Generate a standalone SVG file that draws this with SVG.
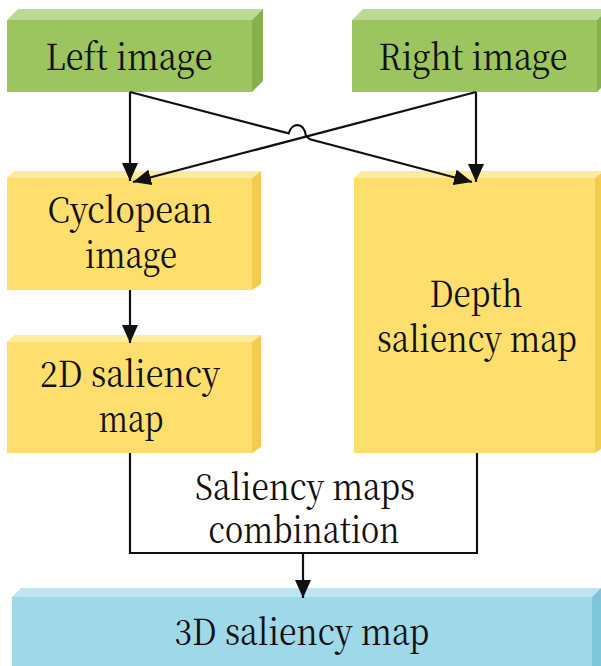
<svg xmlns="http://www.w3.org/2000/svg" width="601" height="666" viewBox="0 0 601 666">
  <style>
    .label { font-family: 'Noto Serif CJK SC', 'Liberation Serif', serif; font-size: 36px; fill: #111; text-anchor: middle; }
    .g-front { fill: #9dc55f; }
    .g-top { fill: #bcd995; }
    .g-side { fill: #86b04a; }
    .y-front { fill: #fedf6e; }
    .y-top { fill: #ffeb9e; }
    .y-side { fill: #f3cc4e; }
    .b-front { fill: #9fd9e9; }
    .b-top { fill: #bfe6f0; }
    .b-side { fill: #7fc5da; }
    .wire { fill: none; stroke: #111; stroke-width: 2.2; }
  </style>
  <defs>
    <marker id="arrow" markerUnits="userSpaceOnUse" markerWidth="18" markerHeight="16" refX="18" refY="8" orient="auto">
      <path d="M0,0 L18,8 L0,16 Z" fill="#111"/>
    </marker>
  </defs>

  <rect width="601" height="666" fill="#ffffff"/>

  <!-- input images -->
  <g id="left-image">
    <polygon class="g-top" points="7,20 18,9 263,9 252,20"/>
    <polygon class="g-side" points="252,20 263,9 263,81 252,92"/>
    <rect class="g-front" x="7" y="20" width="245" height="72"/>
    <text class="label" x="129" y="70" textLength="167" lengthAdjust="spacingAndGlyphs">Left image</text>
  </g>
  <g id="right-image">
    <polygon class="g-top" points="352,20 363,9 608,9 597,20"/>
    <polygon class="g-side" points="597,20 608,9 608,81 597,92"/>
    <rect class="g-front" x="352" y="20" width="245" height="72"/>
    <text class="label" x="473" y="70" textLength="189" lengthAdjust="spacingAndGlyphs">Right image</text>
  </g>

  <!-- intermediate maps -->
  <g id="cyclopean-image">
    <polygon class="y-top" points="7,178 14,171 261,171 252,178"/>
    <polygon class="y-side" points="252,178 261,171 261,284 252,290"/>
    <rect class="y-front" x="7" y="178" width="245" height="112"/>
    <text class="label" x="130" y="223" textLength="165" lengthAdjust="spacingAndGlyphs">Cyclopean</text>
    <text class="label" x="131" y="268" textLength="92" lengthAdjust="spacingAndGlyphs">image</text>
  </g>
  <g id="saliency-2d">
    <polygon class="y-top" points="7,342 14,335 261,335 252,342"/>
    <polygon class="y-side" points="252,342 261,335 261,447 252,453"/>
    <rect class="y-front" x="7" y="342" width="245" height="111"/>
    <text class="label" x="130" y="387" textLength="180" lengthAdjust="spacingAndGlyphs">2D saliency</text>
    <text class="label" x="131" y="432" textLength="65" lengthAdjust="spacingAndGlyphs">map</text>
  </g>
  <g id="depth-saliency">
    <polygon class="y-top" points="354,178 361,171 604,171 595,178"/>
    <polygon class="y-side" points="595,178 604,171 604,447 595,453"/>
    <rect class="y-front" x="354" y="178" width="241" height="275"/>
    <text class="label" x="476" y="307" textLength="93" lengthAdjust="spacingAndGlyphs">Depth</text>
    <text class="label" x="477" y="352" textLength="200" lengthAdjust="spacingAndGlyphs">saliency map</text>
  </g>

  <!-- fused output -->
  <g id="saliency-3d">
    <polygon class="b-top" points="12,597 21,588 601,588 592,597"/>
    <polygon class="b-side" points="592,597 601,588 601,666 592,666"/>
    <rect class="b-front" x="12" y="597" width="580" height="69"/>
    <text class="label" x="302" y="645" textLength="255" lengthAdjust="spacingAndGlyphs">3D saliency map</text>
  </g>

  <g id="combination-label">
    <text class="label" x="305" y="500" textLength="220" lengthAdjust="spacingAndGlyphs">Saliency maps</text>
    <text class="label" x="304" y="543" textLength="191" lengthAdjust="spacingAndGlyphs">combination</text>
  </g>

  <!-- connectors -->
  <g id="connectors">
    <line class="wire" x1="130" y1="92" x2="130" y2="181" marker-end="url(#arrow)"/>
    <line class="wire" x1="476" y1="92" x2="476" y2="182" marker-end="url(#arrow)"/>
    <line class="wire" x1="476" y1="92" x2="133" y2="182" marker-end="url(#arrow)"/>
    <!-- left-to-depth link hops over the crossing line -->
    <path class="wire" d="M130,92 L288.7,133.3 C292,122 304,122 306,136 L310,139.3 L472,182" marker-end="url(#arrow)"/>
    <line class="wire" x1="130" y1="290" x2="130" y2="343" marker-end="url(#arrow)"/>
    <polyline class="wire" points="130,453 130,553 477,553 477,453"/>
    <line class="wire" x1="303" y1="553" x2="303" y2="598" marker-end="url(#arrow)"/>
  </g>
</svg>
